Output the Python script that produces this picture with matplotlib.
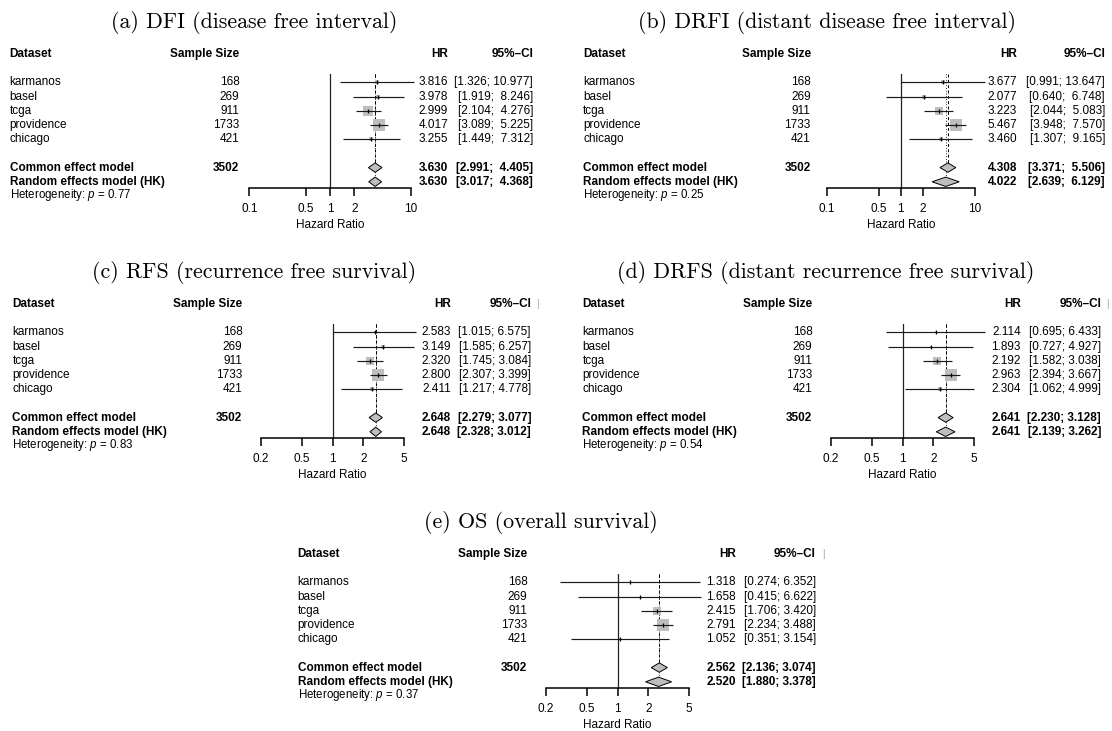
import numpy as np
import matplotlib.pyplot as plt
from matplotlib.ticker import NullLocator

plt.rcParams['font.family'] = ['Liberation Sans', 'DejaVu Sans']
plt.rcParams['mathtext.fontset'] = 'custom'
plt.rcParams['mathtext.rm'] = 'Liberation Sans'
plt.rcParams['mathtext.it'] = 'Liberation Sans:italic'

# ---- data ----
datasets = ['karmanos', 'basel', 'tcga', 'providence', 'chicago']
sample_sizes = [168, 269, 911, 1733, 421]
total_n = 3502

titles = ['(a) DFI (disease free interval)',
          '(b) DRFI (distant disease free interval)',
          '(c) RFS (recurrence free survival)',
          '(d) DRFS (distant recurrence free survival)',
          '(e) OS (overall survival)']

hr_dfi = [3.816, 3.978, 2.999, 4.017, 3.255]
lo_dfi = [1.326, 1.919, 2.104, 3.089, 1.449]
hi_dfi = [10.977, 8.246, 4.276, 5.225, 7.312]
common_dfi = [3.630, 2.991, 4.405]
random_dfi = [3.630, 3.017, 4.368]
p_dfi = 0.77

hr_drfi = [3.677, 2.077, 3.223, 5.467, 3.460]
lo_drfi = [0.991, 0.640, 2.044, 3.948, 1.307]
hi_drfi = [13.647, 6.748, 5.083, 7.570, 9.165]
common_drfi = [4.308, 3.371, 5.506]
random_drfi = [4.022, 2.639, 6.129]
p_drfi = 0.25

hr_rfs = [2.583, 3.149, 2.320, 2.800, 2.411]
lo_rfs = [1.015, 1.585, 1.745, 2.307, 1.217]
hi_rfs = [6.575, 6.257, 3.084, 3.399, 4.778]
common_rfs = [2.648, 2.279, 3.077]
random_rfs = [2.648, 2.328, 3.012]
p_rfs = 0.83

hr_drfs = [2.114, 1.893, 2.192, 2.963, 2.304]
lo_drfs = [0.695, 0.727, 1.582, 2.394, 1.062]
hi_drfs = [6.433, 4.927, 3.038, 3.667, 4.999]
common_drfs = [2.641, 2.230, 3.128]
random_drfs = [2.641, 2.139, 3.262]
p_drfs = 0.54

hr_os = [1.318, 1.658, 2.415, 2.791, 1.052]
lo_os = [0.274, 0.415, 1.706, 2.234, 0.351]
hi_os = [6.352, 6.622, 3.420, 3.488, 3.154]
common_os = [2.562, 2.136, 3.074]
random_os = [2.520, 1.880, 3.378]
p_os = 0.37

ticks_wide = [0.1, 0.5, 1, 2, 10]
ticks_narrow = [0.2, 0.5, 1, 2, 5]

# ---- layout (pixels) ----
W, H = 1112, 731
fig = plt.figure(figsize=(W / 100, H / 100), dpi=100)

FS = 8.5
GRAY = '#bebebe'
ROW0, ROWH = 54, 14.2
TOP_R, AXIS_R = 1.41, 9.47
DH = 0.33      # diamond half height (rows)
BOX_MAX = 8.9  # largest box side, points


def fx(x):
    return x / W


def fy(y):
    return 1 - y / H


def row_y(dy, r):
    return dy + ROW0 + ROWH * r


def ci_strings(lo, hi):
    wl = max(len(f'{v:.3f}') for v in lo)
    wh = max(len(f'{v:.3f}') for v in hi)
    return [f'[{a:>{wl}.3f}; {b:>{wh}.3f}]' for a, b in zip(lo, hi)]


def forest(lay, title, hr, lo, hi, common, random, pval, ticks):
    dy = lay['dy']
    fl, fr = lay['fl'], lay['fr']

    # title
    fig.text(fx(lay['tx']), fy(dy + 23), title, family='cmr10', fontsize=15.8,
             ha='center', va='center')

    # header
    y = fy(row_y(dy, 0))
    fig.text(fx(lay['name']), y, 'Dataset', weight='bold', fontsize=FS, va='center')
    fig.text(fx(lay['n']), y, 'Sample Size', weight='bold', fontsize=FS, va='center', ha='right')
    fig.text(fx(lay['hr']), y, 'HR', weight='bold', fontsize=FS, va='center', ha='right')
    fig.text(fx(lay['ci']), y, '95%–CI', weight='bold', fontsize=FS, va='center', ha='right')
    if lay.get('bar'):
        fig.text(fx(lay['bar']), y, '|', color='#999999', fontsize=7, va='center', ha='center')

    cis = ci_strings(lo + [common[1], random[1]], hi + [common[2], random[2]])

    # study rows
    for i, name in enumerate(datasets):
        y = fy(row_y(dy, i + 2))
        fig.text(fx(lay['name']), y, name, fontsize=FS, va='center')
        fig.text(fx(lay['n']), y, str(sample_sizes[i]), fontsize=FS, va='center', ha='right')
        fig.text(fx(lay['hr']), y, f'{hr[i]:.3f}', fontsize=FS, va='center', ha='right')
        fig.text(fx(lay['ci']), y, cis[i], fontsize=FS, va='center', ha='right')

    # model rows
    for k, (lab, m) in enumerate([('Common effect model', common),
                                  ('Random effects model (HK)', random)]):
        y = fy(row_y(dy, 8 + k))
        fig.text(fx(lay['name']), y, lab, weight='bold', fontsize=FS, va='center')
        if k == 0:
            fig.text(fx(lay['n']), y, str(total_n), weight='bold', fontsize=FS,
                     va='center', ha='right')
        fig.text(fx(lay['hr']), y, f'{m[0]:.3f}', weight='bold', fontsize=FS,
                 va='center', ha='right')
        fig.text(fx(lay['ci']), y, cis[5 + k], weight='bold', fontsize=FS,
                 va='center', ha='right')

    fig.text(fx(lay['name']), fy(row_y(dy, 10) - 1), f'Heterogeneity: $p$ = {pval:.2f}',
             fontsize=8.3, va='center')

    # forest axes
    top, bot = row_y(dy, TOP_R), row_y(dy, AXIS_R)
    ax = fig.add_axes([fx(fl), fy(bot), (fr - fl) / W, (bot - top) / H])
    ax.patch.set_alpha(0)
    ax.set_xscale('log')
    ax.set_xlim(ticks[0], ticks[-1])
    ax.set_ylim(AXIS_R, TOP_R)
    for s in ['left', 'right', 'top']:
        ax.spines[s].set_visible(False)
    ax.spines['bottom'].set_linewidth(1.1)
    ax.set_yticks([])
    ax.set_xticks(ticks)
    ax.set_xticklabels([f'{t:g}' for t in ticks])
    ax.xaxis.set_minor_locator(NullLocator())
    ax.tick_params(axis='x', length=5.8, width=1.1, pad=5, labelsize=FS)

    # reference lines
    ax.plot([1, 1], [TOP_R, AXIS_R], color='#222222', lw=0.9, zorder=1)
    ax.plot([common[0]] * 2, [TOP_R, 8 - DH], color='k', lw=0.7,
            dashes=(3, 2.5), zorder=1)
    ax.plot([random[0]] * 2, [TOP_R, 9 - DH], color='k', lw=0.7,
            dashes=(0.8, 2.0), zorder=1)

    # inverse-variance weights -> box sizes
    se = (np.log(hi) - np.log(lo)) / (2 * 1.959964)
    w = 1 / se ** 2
    box = BOX_MAX * np.sqrt(w / w.max())

    for i in range(len(datasets)):
        r = i + 2
        ax.plot(hr[i], r, marker='s', ms=box[i], color=GRAY, mew=0,
                zorder=2, clip_on=False)
        ax.plot([lo[i], hi[i]], [r, r], color='#1a1a1a', lw=0.85, zorder=3,
                clip_on=False, solid_capstyle='butt')
        ax.plot(hr[i], r, marker='|', ms=3.2, mew=0.9, color='k',
                zorder=4, clip_on=False)

    for k, m in enumerate([common, random]):
        r = 8 + k
        ax.fill([m[1], m[0], m[2], m[0]], [r, r - DH, r, r + DH],
                facecolor=GRAY, edgecolor='k', lw=0.7, zorder=3, clip_on=False)

    fig.text(fx((fl + fr) / 2), fy(dy + 225), 'Hazard Ratio', fontsize=FS,
             ha='center', va='center')


lay_a = dict(dy=0, name=9.5, n=239.5, fl=249.3, fr=410.7, hr=448, ci=533, tx=254)
lay_b = dict(dy=0, name=583, n=810.7, fl=826.7, fr=975, hr=1017, ci=1105, tx=826.5)
lay_c = dict(dy=250, name=12.5, n=242.3, fl=261, fr=404, hr=450.7, ci=531, bar=537, tx=254)
lay_d = dict(dy=250, name=582.5, n=812.3, fl=831, fr=974, hr=1020.7, ci=1101, bar=1107, tx=826)
lay_e = dict(dy=500, name=297.5, n=527.3, fl=546, fr=689, hr=736, ci=816, bar=823, tx=541)

forest(lay_a, titles[0], hr_dfi, lo_dfi, hi_dfi, common_dfi, random_dfi, p_dfi, ticks_wide)
forest(lay_b, titles[1], hr_drfi, lo_drfi, hi_drfi, common_drfi, random_drfi, p_drfi, ticks_wide)
forest(lay_c, titles[2], hr_rfs, lo_rfs, hi_rfs, common_rfs, random_rfs, p_rfs, ticks_narrow)
forest(lay_d, titles[3], hr_drfs, lo_drfs, hi_drfs, common_drfs, random_drfs, p_drfs, ticks_narrow)
forest(lay_e, titles[4], hr_os, lo_os, hi_os, common_os, random_os, p_os, ticks_narrow)

fig.savefig('out.png', dpi=100)
